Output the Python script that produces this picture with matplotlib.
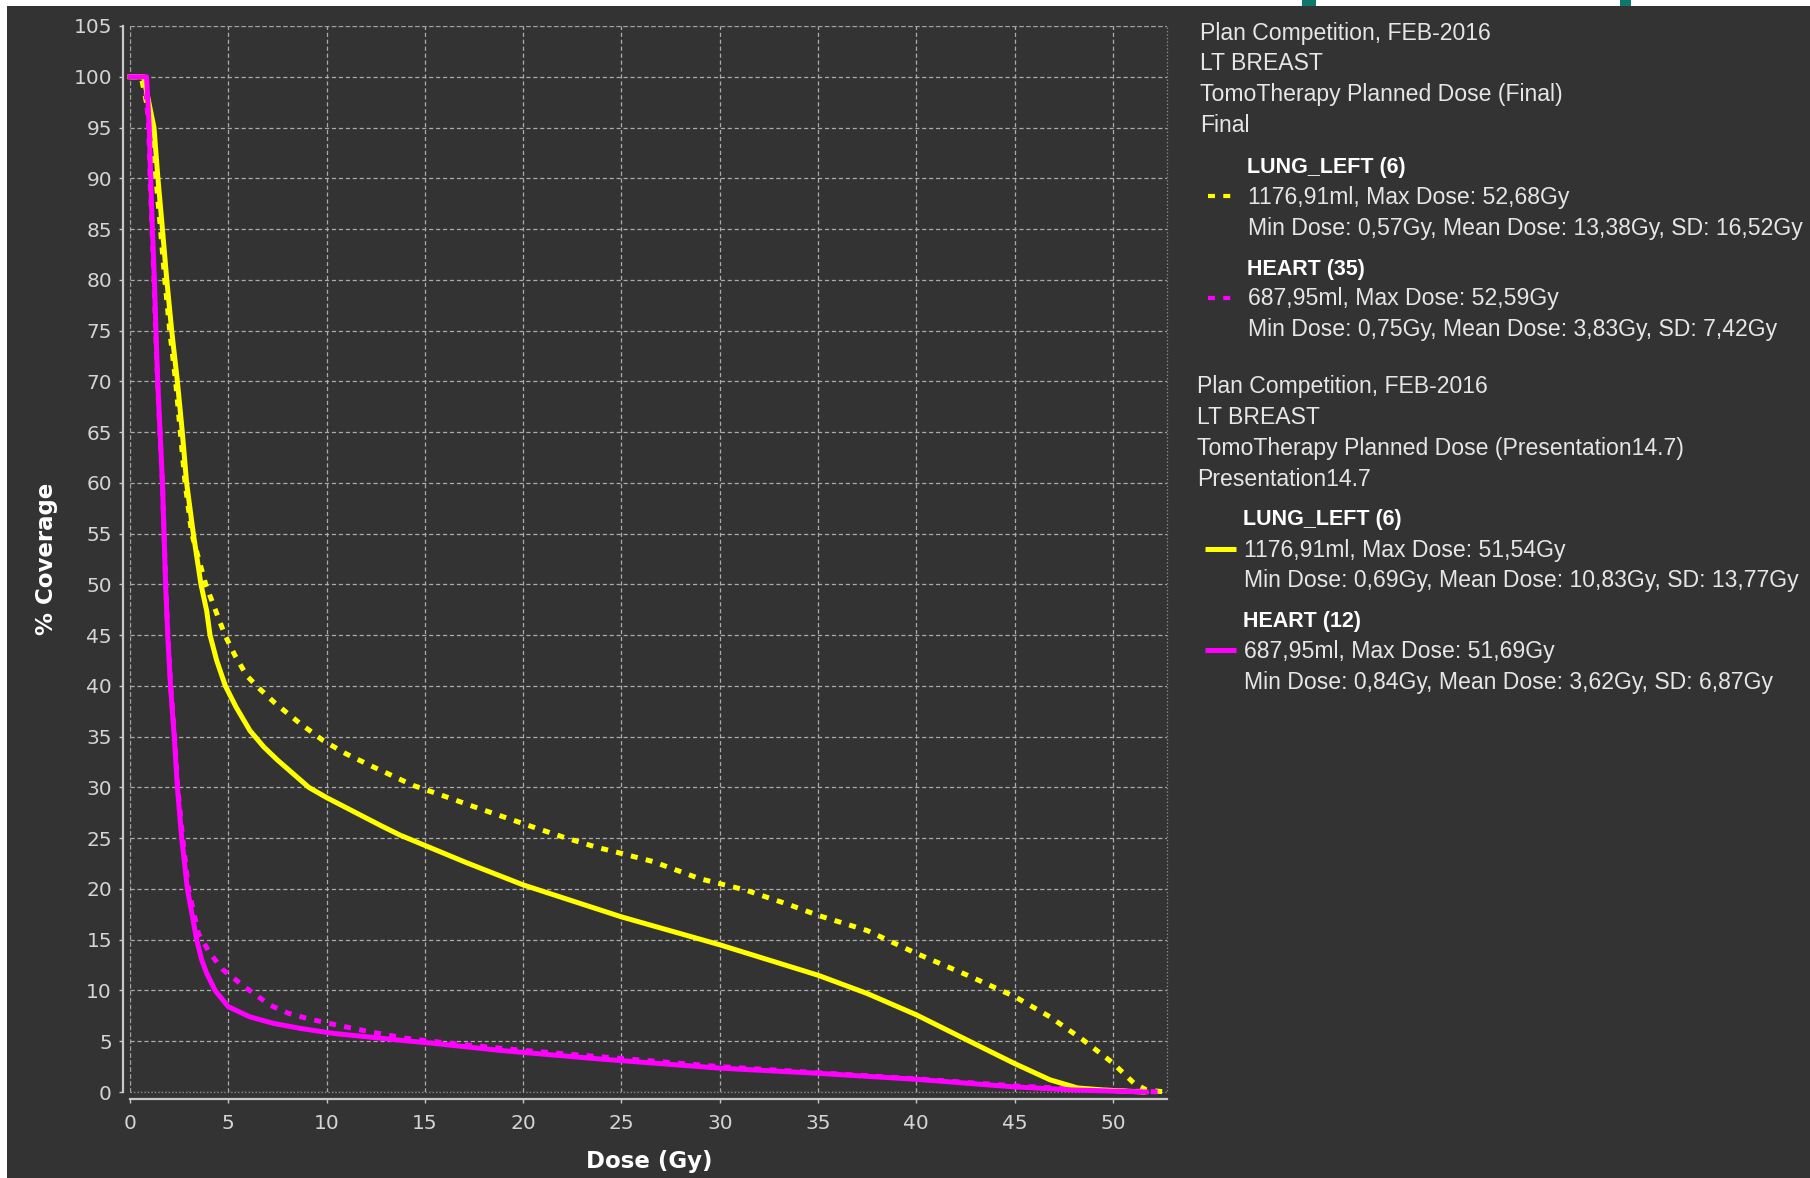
import matplotlib
matplotlib.use("Agg")
import matplotlib.pyplot as plt
from matplotlib.lines import Line2D
from matplotlib.patches import Rectangle

# ---------------- data ----------------
lung_final_dose = [0, 0.57, 1.10, 1.32, 1.55, 1.77, 2.02, 2.32, 2.56, 2.80, 3.14, 3.85, 4.83, 5.34,
                   5.94, 6.6, 7.38, 8.65, 9.84, 11.0, 12.4, 14.4, 15.9, 17.5, 19.0, 20.5, 22.05,
                   23.75, 25.0, 26.6, 29.0, 31.3, 33.6, 35.0, 37.5, 40.0, 42.6, 45.0, 46.8, 48.5,
                   50.0, 51.05, 51.7, 52.68]
lung_final_pct = [100, 100, 95, 90, 85, 80, 75, 70, 65, 60, 55, 50, 45, 43.0,
                  41.0, 39.7, 38.3, 36.3, 34.6, 33.3, 32.0, 30.2, 29.2, 28.1, 27.1, 26.1, 25.1,
                  24.1, 23.5, 22.7, 21.0, 19.9, 18.4, 17.4, 15.9, 13.65, 11.5, 9.4, 7.4, 5.1,
                  2.85, 0.9, 0.2, 0.0]

heart_final_dose = [0, 0.75, 0.95, 1.02, 1.12, 1.22, 1.30, 1.40, 1.52, 1.65, 1.73, 1.82, 1.93, 2.07,
                    2.27, 2.43, 2.68, 2.98, 3.48, 4.07, 4.75, 5.94, 7.12, 8.06, 9.0, 10.5, 12.2,
                    14.0, 16.0, 20.0, 25.0, 30.0, 35.0, 40.0, 45.0, 48.0, 50.0, 52.59]
heart_final_pct = [100, 100, 95, 90, 85, 80, 75, 70, 65, 60, 55, 50, 45, 40,
                   35, 30, 25, 20, 15.6, 13.65, 12.0, 10.2, 8.56, 7.75, 7.25, 6.6, 5.93,
                   5.3, 4.85, 4.1, 3.3, 2.5, 1.9, 1.3, 0.6, 0.3, 0.15, 0.0]

lung_pres_dose = [0, 0.69, 1.22, 1.42, 1.65, 1.87, 2.12, 2.41, 2.66, 2.88, 3.22, 3.61, 3.9, 4.07,
                  4.41, 4.85, 5.4, 6.1, 6.8, 7.5, 9.1, 10.0, 11.2, 12.8, 13.74, 17.1, 20.0, 25.0,
                  30.0, 35.0, 37.5, 40.0, 42.6, 45.0, 46.8, 48.2, 49.5, 51.54]
lung_pres_pct = [100, 100, 95, 90, 85, 80, 75, 70, 65, 60, 55, 50, 47.4, 45,
                 42.5, 40, 37.9, 35.6, 34.0, 32.7, 30, 29.0, 27.8, 26.2, 25.3, 22.6, 20.4, 17.25,
                 14.5, 11.5, 9.7, 7.6, 5.1, 2.8, 1.2, 0.4, 0.2, 0.0]

heart_pres_dose = [0, 0.84, 0.98, 1.05, 1.14, 1.24, 1.32, 1.41, 1.53, 1.65, 1.73, 1.81, 1.92, 2.06,
                   2.25, 2.41, 2.63, 2.92, 3.39, 3.65, 3.9, 4.33, 5.0, 6.1, 7.3, 8.65, 10.35,
                   12.0, 13.74, 15.4, 18.8, 23.9, 30.0, 35.0, 40.0, 45.0, 48.0, 51.69]
heart_pres_pct = [100, 100, 95, 90, 85, 80, 75, 70, 65, 60, 55, 50, 45, 40,
                  35, 30, 25, 20, 15, 13.0, 11.7, 10, 8.4, 7.4, 6.76, 6.27, 5.77,
                  5.45, 5.1, 4.8, 4.1, 3.25, 2.35, 1.84, 1.25, 0.5, 0.2, 0.0]

x_ticks = list(range(0, 51, 5))
y_ticks = list(range(0, 106, 5))

legend_blocks = [
    {"header": ["Plan Competition, FEB-2016", "LT BREAST",
                "TomoTherapy Planned Dose (Final)", "Final"],
     "entries": [("LUNG_LEFT (6)", "1176,91ml, Max Dose: 52,68Gy",
                  "Min Dose: 0,57Gy, Mean Dose: 13,38Gy, SD: 16,52Gy", "#ffff00", "dashed"),
                 ("HEART (35)", "687,95ml, Max Dose: 52,59Gy",
                  "Min Dose: 0,75Gy, Mean Dose: 3,83Gy, SD: 7,42Gy", "#ff00ff", "dashed")]},
    {"header": ["Plan Competition, FEB-2016", "LT BREAST",
                "TomoTherapy Planned Dose (Presentation14.7)", "Presentation14.7"],
     "entries": [("LUNG_LEFT (6)", "1176,91ml, Max Dose: 51,54Gy",
                  "Min Dose: 0,69Gy, Mean Dose: 10,83Gy, SD: 13,77Gy", "#ffff00", "solid"),
                 ("HEART (12)", "687,95ml, Max Dose: 51,69Gy",
                  "Min Dose: 0,84Gy, Mean Dose: 3,62Gy, SD: 6,87Gy", "#ff00ff", "solid")]},
]

# ---------------- styling ----------------
W, H, DPI = 1810, 1178, 100
BG = "#333333"
TXT = "#e6e6e6"
TICKC = "#d4d4d4"
SPINE = "#c8c8c8"
GRID = "#ababab"
plt.rcParams["lines.scale_dashes"] = False
DASH = (0, (5.0, 6.0))
LW = 3.6

fig = plt.figure(figsize=(W / DPI, H / DPI), dpi=DPI, facecolor="white")

def fx(px):
    return px / W

def fy(py):
    return 1 - py / H

# dark panel with thin white margin top/left
fig.patches.append(Rectangle((fx(7), 0), 1 - fx(7), fy(6), transform=fig.transFigure,
                             facecolor=BG, edgecolor="none", zorder=-10))
# small teal fragments in the white margin
for x0, x1 in [(1302, 1316), (1620, 1631)]:
    fig.patches.append(Rectangle((fx(x0), fy(6)), fx(x1 - x0), 6 / H, transform=fig.transFigure,
                                 facecolor="#10786a", edgecolor="none", zorder=-9))

L, R, T, B = 130, 1167, 26, 1092
ax = fig.add_axes([fx(L), fy(B), fx(R - L), (B - T) / H])
ax.set_zorder(5)
ax.set_facecolor(BG)
ax.set_xlim(0, 52.75)
ax.set_ylim(0, 105)

for s in ["top", "right"]:
    ax.spines[s].set_visible(False)
for s in ["left", "bottom"]:
    ax.spines[s].set_position(("outward", 5))
    ax.spines[s].set_color(SPINE)
    ax.spines[s].set_linewidth(1.6)

ax.set_xticks(x_ticks)
ax.set_yticks(y_ticks)
ax.tick_params(axis="both", direction="out", length=3, width=1, color=SPINE,
               labelcolor=TICKC, labelsize=14.5)
ax.tick_params(axis="x", pad=8)
ax.tick_params(axis="y", pad=5)
for lab in ax.get_xticklabels() + ax.get_yticklabels():
    lab.set_family("DejaVu Sans")

ax.grid(True, color=GRID, lw=0.9, ls=(0, (3.0, 2.0)))
ax.set_axisbelow(True)
ax.add_patch(Rectangle((0, 0), 1, 1, transform=ax.transAxes, fill=False,
                       ls=(0, (1, 1.5)), ec="#8c8c8c", lw=0.9, clip_on=False, zorder=1))

ax.plot(lung_final_dose, lung_final_pct, color="#ffff00", lw=LW, ls=DASH,
        dash_capstyle="butt", clip_on=False, zorder=3)
ax.plot(heart_final_dose, heart_final_pct, color="#ff00ff", lw=LW, ls=DASH,
        dash_capstyle="butt", clip_on=False, zorder=3)
ax.plot(lung_pres_dose, lung_pres_pct, color="#ffff00", lw=LW, ls="-",
        solid_joinstyle="round", clip_on=False, zorder=4)
ax.plot(heart_pres_dose, heart_pres_pct, color="#ff00ff", lw=LW, ls="-",
        solid_joinstyle="round", clip_on=False, zorder=4)

# axis titles
fig.text(fx(46), fy(559), "% Coverage", rotation=90, ha="center", va="center",
         fontsize=16.5, fontweight="bold", color="white", family="DejaVu Sans")
fig.text(fx(649), fy(1168), "Dose (Gy)", ha="center", va="baseline",
         fontsize=16.5, fontweight="bold", color="white", family="DejaVu Sans")

# legend text
FAM = ["Liberation Sans", "DejaVu Sans"]
RS = 16.6
BS = 15.5
block_geo = [
    {"x": 1200, "xe": 1248, "mx": (1208, 1235),
     "hy": [32, 62.5, 93.5, 124], "ey": [(165, 196, 226.5), (266.5, 297.5, 328)]},
    {"x": 1197, "xe": 1244, "mx": (1205, 1236),
     "hy": [385.5, 415.5, 447, 477.5], "ey": [(517.5, 549, 579), (619.5, 650, 680.5)]},
]
for blk, geo in zip(legend_blocks, block_geo):
    for line, yy in zip(blk["header"], geo["hy"]):
        fig.text(fx(geo["x"]), fy(yy + 8), line, ha="left", va="baseline",
                 fontsize=RS, color=TXT, family=FAM)
    for (name, l1, l2, col, sty), (y0, y1, y2) in zip(blk["entries"], geo["ey"]):
        fig.text(fx(geo["xe"] - 1), fy(y0 + 8), name, ha="left", va="baseline",
                 fontsize=BS, fontweight="bold", color="white", family=FAM)
        fig.text(fx(geo["xe"]), fy(y1 + 8), l1, ha="left", va="baseline",
                 fontsize=RS, color=TXT, family=FAM)
        fig.text(fx(geo["xe"]), fy(y2 + 8), l2, ha="left", va="baseline",
                 fontsize=RS, color=TXT, family=FAM)
        ls = DASH if sty == "dashed" else "-"
        lw = 3.0 if sty == "dashed" else 3.6
        fig.add_artist(Line2D([fx(geo["mx"][0]), fx(geo["mx"][1])], [fy(y1), fy(y1)],
                              transform=fig.transFigure, color=col, lw=lw, ls=ls,
                              dash_capstyle="butt", solid_capstyle="butt"))

fig.savefig("out.png", dpi=DPI, facecolor=fig.get_facecolor())
